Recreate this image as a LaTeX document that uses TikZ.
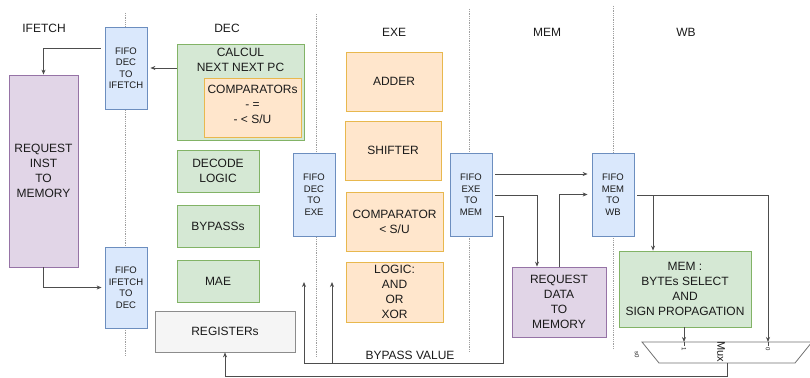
\documentclass[tikz,border=0pt]{standalone}
\usepackage{fontspec}
\setmainfont{Liberation Sans}
\usetikzlibrary{arrows.meta,calc}

\definecolor{fifofill}{HTML}{DAE8FC}
\definecolor{fifoline}{HTML}{6C8EBF}
\definecolor{grnfill}{HTML}{D5E8D4}
\definecolor{grnline}{HTML}{82B366}
\definecolor{orgfill}{HTML}{FFE6CC}
\definecolor{orgline}{HTML}{E8B84E}
\definecolor{purfill}{HTML}{E1D5E7}
\definecolor{purline}{HTML}{9673A6}
\definecolor{gryfill}{HTML}{F5F5F5}
\definecolor{gryline}{HTML}{8C8C8C}
\definecolor{wire}{HTML}{4D4D4D}
\definecolor{ink}{HTML}{1A1A1A}

\tikzset{
  block/.style={draw, line width=0.8pt, inner sep=0pt, align=center, text=ink,
    font=\fontsize{12}{15}\selectfont},
  fifo/.style={block, fill=fifofill, draw=fifoline, minimum width=42pt, minimum height=83pt,
    font=\fontsize{9.5}{11.5}\selectfont},
  grnbox/.style={block, fill=grnfill, draw=grnline},
  orgbox/.style={block, fill=orgfill, draw=orgline},
  purbox/.style={block, fill=purfill, draw=purline},
  grybox/.style={block, fill=gryfill, draw=gryline},
  stage/.style={text=ink, font=\fontsize{12}{14}\selectfont},
  lbl/.style={text=ink, align=center, font=\fontsize{12}{15}\selectfont},
  tiny/.style={text=ink, font=\fontsize{6}{7}\selectfont, rotate=-90, inner sep=0pt},
  boundary/.style={draw=gray!75, densely dotted, line width=0.8pt},
  wirestyle/.style={draw=wire, line width=0.8pt},
  conn/.style={wirestyle, -{Stealth[length=5pt,width=4pt]}},
}

\begin{document}
\begin{tikzpicture}[x=1pt, y=-1pt]
\useasboundingbox (0,0) rectangle (810,377);

% pipeline stage boundaries
\draw[boundary] (125,13) -- (125,356);
\draw[boundary] (316,14) -- (316,357);
\draw[boundary] (469,9) -- (469,352);
\draw[boundary] (613,6) -- (613,349);

% stage titles
\node[stage] (tIF)  at (44,28)  {IFETCH};
\node[stage] (tDEC) at (227,28) {DEC};
\node[stage] (tEXE) at (394,32) {EXE};
\node[stage] (tMEM) at (547,32) {MEM};
\node[stage] (tWB)  at (686,32) {WB};

% FIFOs between stages
\node[fifo, minimum height=82pt] (f1) at (126,68)    {FIFO\\DEC\\TO\\IFETCH};
\node[fifo, minimum height=81pt] (f2) at (126,287.5) {FIFO\\IFETCH\\TO\\DEC};
\node[fifo] (f3) at (314,194.5) {FIFO\\DEC\\TO\\EXE};
\node[fifo] (f4) at (471,194.5) {FIFO\\EXE\\TO\\MEM};
\node[fifo] (f5) at (613,194.5) {FIFO\\MEM\\TO\\WB};

% IFETCH
\node[purbox, minimum width=69pt, minimum height=192pt] (reqi) at (43.5,171)
  {REQUEST\\INST\\TO\\MEMORY};

% DEC
\node[grnbox, minimum width=127pt, minimum height=96pt] (calc) at (240.5,92) {};
\node[lbl] (calct) at ($(calc.north)+(0,16.5)$) {CALCUL\\NEXT NEXT PC};
\node[orgbox, minimum width=97pt, minimum height=59pt] (cmp) at (252.5,107.5) {};
\node[lbl] (cmpt) at (252.5,104) {COMPARATORs\\- =\\- < S/U};
\node[grnbox, minimum width=82pt, minimum height=42pt] (dec) at (218,171) {DECODE\\LOGIC};
\node[grnbox, minimum width=82pt, minimum height=42pt] (byp) at (218,226) {BYPASSs};
\node[grnbox, minimum width=82pt, minimum height=42pt] (mae) at (218,281) {MAE};
\node[grybox, minimum width=140pt, minimum height=41pt] (reg) at (225,331.5) {REGISTERs};

% EXE
\node[orgbox, minimum width=96pt, minimum height=59pt] (add) at (394,81.5)  {ADDER};
\node[orgbox, minimum width=96pt, minimum height=59pt] (shf) at (393,150.5) {SHIFTER};
\node[orgbox, minimum width=97pt, minimum height=59pt] (cmpx) at (394.5,221.5) {COMPARATOR\\< S/U};
\node[orgbox, minimum width=97pt, minimum height=60pt] (lgc) at (394.5,292) {LOGIC:\\AND\\OR\\XOR};

% MEM
\node[purbox, minimum width=94pt, minimum height=70pt] (reqd) at (559,302)
  {REQUEST\\DATA\\TO\\MEMORY};

% WB
\node[grnbox, minimum width=132pt, minimum height=76pt] (msel) at (685,289)
  {MEM :\\BYTEs SELECT\\AND\\SIGN PROPAGATION};

% write-back multiplexer
\coordinate (muxTL) at (642,342);
\coordinate (muxTR) at (812,342);
\coordinate (muxBR) at (795,363);
\coordinate (muxBL) at (659,363);
\coordinate (mux1) at (684,342);
\coordinate (mux0) at (768,342);
\coordinate (muxout) at (727,363);
\draw[wirestyle, draw=wire!80] (muxTL) -- (muxTR) -- (muxBR) -- (muxBL) -- cycle;
\node[text=ink, font=\fontsize{11}{12}\selectfont, rotate=-90, inner sep=0pt] (muxname) at (721,352) {Mux};
\draw[wirestyle] (mux1) -- ++(0,4);
\draw[wirestyle] (mux0) -- ++(0,4);
\node[tiny] (m1) at (684,349) {1};
\node[tiny] (m0) at (768,349) {0};
\node[tiny] (ms) at (637,355) {s0};

% fetch loop
\draw[conn] ($(f1.west)+(-4,-20)$) -| (reqi.north);
\draw[conn, shorten >=3pt] ($(calc.west)+(0,-24)$) -- (f1.east);
\draw[conn, shorten >=3pt] (reqi.south) |- (f2.west);

% EXE -> MEM -> WB
\draw[conn] ($(f4.east)+(3,-20.5)$) -- ($(f5.west)+(-4,-20.5)$);
\draw[conn] ($(f4.east)+(3,0.5)$) -| ($(reqd.north)+(-22,0)$);
\draw[conn] (reqd.north) |- ($(f5.west)+(-4,0)$);

% bypass value back to the decode stage
\coordinate (bpR) at (503,363);
\coordinate (bpL) at (304,363);
\coordinate (bpM) at (332,363);
\coordinate (bpA) at (304,282);
\coordinate (bpB) at (332,282);
\draw[conn] ($(f4.east)+(3,21.5)$) -| (bpR) -- (bpL) -- (bpA);
\draw[conn] (bpM) -- (bpB);
\node[lbl] (bptxt) at (410,355) {BYPASS VALUE};

% WB paths into the multiplexer
\coordinate (mselin) at ($(msel.north)+(-32,0)$);
\coordinate (wbsrc) at ($(f5.east)+(3,0.5)$);
\draw[conn] (wbsrc) -| (mux0);
\draw[conn] (mselin |- wbsrc) -- (mselin);
\draw[conn] (msel.south -| mux1) -- (mux1);

% multiplexer output to the register file
\draw[conn] (muxout) -- ++(0,13) -| (reg.south);
\end{tikzpicture}
\end{document}
